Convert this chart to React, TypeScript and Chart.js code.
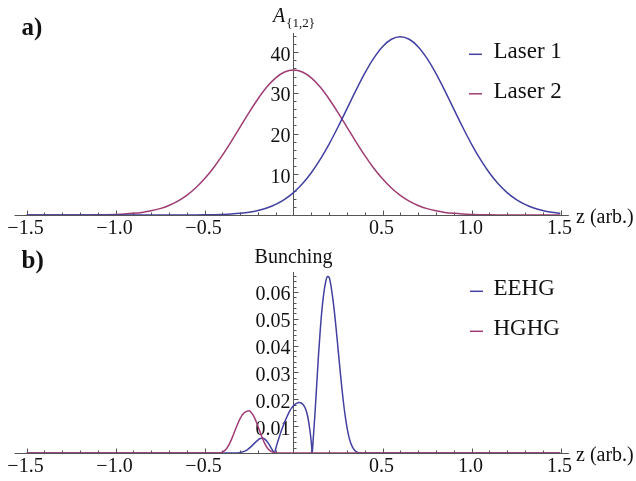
import React, { useEffect, useRef } from "react";
import { Chart, registerables } from "chart.js";

Chart.register(...registerables);

// ---------- data ----------
const zLaser = [
  -1.5, -1.45, -1.4, -1.35, -1.3, -1.25, -1.2, -1.15, -1.1, -1.05, -1.0, -0.95, -0.9, -0.85, -0.8, -0.75,
  -0.7, -0.65, -0.6, -0.55, -0.5, -0.45, -0.4, -0.35, -0.3, -0.25, -0.2, -0.15, -0.1, -0.05, 0, 0.05, 0.1,
  0.15, 0.2, 0.25, 0.3, 0.35, 0.4, 0.45, 0.5, 0.55, 0.6, 0.65, 0.7, 0.75, 0.8, 0.85, 0.9, 0.95, 1.0, 1.05,
  1.1, 1.15, 1.2, 1.25, 1.3, 1.35, 1.4, 1.45, 1.5,
];
const laser1 = [
  0, 0, 0, 0, 0, 0, 0, 0, 0, 0, 0, 0, 0, 0, 0, 0, 0, 0,
  0.01, 0.02, 0.04, 0.08, 0.14, 0.24, 0.41, 0.68, 1.1, 1.71, 2.6, 3.84, 5.5, 7.66, 10.37, 13.64, 17.42,
  21.62, 26.07, 30.55, 34.78, 38.47, 41.35, 43.17, 43.8, 43.17, 41.35, 38.47, 34.78, 30.55, 26.07, 21.62,
  17.42, 13.64, 10.37, 7.66, 5.5, 3.84, 2.6, 1.71, 1.1, 0.68, 0.41,
];
const laser2 = [
  0, 0, 0, 0, 0, 0, 0.01, 0.02, 0.04, 0.08, 0.14, 0.24, 0.4, 0.64, 1.02, 1.56, 2.34, 3.4, 4.82, 6.63, 8.88,
  11.56, 14.64, 18.02, 21.59, 25.16, 28.5, 31.42, 33.67, 35.11, 35.6, 35.11, 33.67, 31.42, 28.5, 25.16,
  21.59, 18.02, 14.64, 11.56, 8.88, 6.63, 4.82, 3.4, 2.34, 1.56, 1.02, 0.64, 0.4, 0.24, 0.14, 0.08, 0.04,
  0.02, 0.01, 0, 0, 0, 0, 0, 0,
];

const zEEHG = [
  -1.5, -0.32, -0.3, -0.28, -0.26, -0.24, -0.22, -0.2, -0.19, -0.18, -0.17, -0.16, -0.15, -0.14, -0.13,
  -0.12, -0.107, -0.1, -0.09, -0.08, -0.07, -0.06, -0.05, -0.04, -0.03, -0.02, -0.01, 0, 0.01, 0.02, 0.03,
  0.04, 0.05, 0.06, 0.07, 0.08, 0.09, 0.1, 0.105, 0.11, 0.12, 0.13, 0.14, 0.15, 0.16, 0.17, 0.18, 0.19,
  0.2, 0.21, 0.22, 0.23, 0.24, 0.25, 0.26, 0.27, 0.28, 0.29, 0.3, 0.31, 0.32, 0.33, 0.34, 0.35, 0.36,
  0.38, 1.5,
];
const eehg = [
  0, 0, 0.0002, 0.0005, 0.0012, 0.0023, 0.0036, 0.0048, 0.0053, 0.0055, 0.0055, 0.0051, 0.0044, 0.0035,
  0.0024, 0.0013, 0, 0.0016, 0.0039, 0.006, 0.008, 0.0098, 0.0115, 0.013, 0.0145, 0.0158, 0.0168, 0.0176,
  0.0182, 0.0186, 0.0188, 0.0187, 0.0183, 0.0175, 0.016, 0.0135, 0.0095, 0.004, 0, 0.0045, 0.014, 0.025,
  0.036, 0.0455, 0.0535, 0.0595, 0.0635, 0.0658, 0.0655, 0.0625, 0.058, 0.0525, 0.046, 0.039, 0.032,
  0.0253, 0.0192, 0.014, 0.0097, 0.0064, 0.004, 0.0024, 0.0013, 0.0006, 0.0002, 0, 0,
];

const zHGHG = [
  -1.5, -0.42, -0.4, -0.38, -0.36, -0.34, -0.32, -0.3, -0.28, -0.26, -0.25, -0.24, -0.22, -0.2, -0.18,
  -0.16, -0.14, -0.12, -0.1, 1.5,
];
const hghg = [
  0, 0, 0.0003, 0.0013, 0.0034, 0.0064, 0.0098, 0.0128, 0.0148, 0.0156, 0.0157, 0.0153, 0.0133, 0.01,
  0.0064, 0.0033, 0.0013, 0.0004, 0, 0,
];

const xTickValues = [-1.5, -1.0, -0.5, 0.5, 1.0, 1.5];
const xTickLabels = ["\u22121.5", "\u22121.0", "\u22120.5", "0.5", "1.0", "1.5"];
const yTicksTop = [10, 20, 30, 40];
const yTickLabelsTop = ["10", "20", "30", "40"];
const yTicksBottom = [0.01, 0.02, 0.03, 0.04, 0.05, 0.06];
const yTickLabelsBottom = ["0.01", "0.02", "0.03", "0.04", "0.05", "0.06"];

const BLUE = "rgb(66, 64, 160)";
const MAGENTA = "rgb(158, 60, 115)";
const SERIF = '"Liberation Serif", "Times New Roman", serif';
const AXIS = "#555";
const TEXT = "#111";

type Overlay = {
  panel: string;
  panelBase: number;
  titleMain: string;
  titleSub?: string;
  titleBase: number;
  yTicks: number[];
  yTickLabels: string[];
  yMinor: number;
  yMinorPerMajor: number;
  legendX1: number;
  legendX2: number;
  legendTextX: number;
  legendBases: number[];
};

function makeOverlay(o: Overlay) {
  return {
    id: "mmaAxes",
    beforeDatasetsDraw(chart: any) {
      const { ctx, chartArea } = chart;
      const xs = chart.scales.x;
      const ys = chart.scales.y;
      const x0 = xs.getPixelForValue(0);
      const y0 = ys.getPixelForValue(0) + 0.5;
      const yTop = chartArea.top;
      ctx.save();
      ctx.strokeStyle = AXIS;
      ctx.lineWidth = 1;
      // x axis line
      ctx.beginPath();
      ctx.moveTo(xs.getPixelForValue(-1.567), y0);
      ctx.lineTo(xs.getPixelForValue(1.547), y0);
      // y axis line
      ctx.moveTo(x0, y0);
      ctx.lineTo(x0, yTop);
      // x ticks (every 0.1, longer every 0.5)
      for (let k = -15; k <= 15; k++) {
        if (k === 0) continue;
        const px = Math.round(xs.getPixelForValue(k / 10)) + 0.5;
        const len = k % 5 === 0 ? 5 : 3;
        ctx.moveTo(px, y0);
        ctx.lineTo(px, y0 - len);
      }
      // y ticks (to the right of the axis)
      const yMax = ys.max;
      for (let i = 1; i * o.yMinor <= yMax + 1e-12; i++) {
        const py = Math.round(ys.getPixelForValue(i * o.yMinor)) + 0.5;
        const len = i % o.yMinorPerMajor === 0 ? 5 : 3;
        ctx.moveTo(x0, py);
        ctx.lineTo(x0 + len, py);
      }
      ctx.stroke();

      ctx.fillStyle = TEXT;
      ctx.textBaseline = "alphabetic";
      // x tick labels
      ctx.font = `20px ${SERIF}`;
      ctx.textAlign = "center";
      xTickValues.forEach((v, i) => {
        ctx.fillText(xTickLabels[i], xs.getPixelForValue(v) - 1, y0 + 18.5);
      });
      // y tick labels
      ctx.textAlign = "right";
      o.yTicks.forEach((v, i) => {
        ctx.fillText(o.yTickLabels[i], x0 - 3, ys.getPixelForValue(v) + 8.5);
      });
      // x axis title
      ctx.textAlign = "left";
      ctx.fillText("z (arb.)", 576, y0 + 7.5);
      // y axis title
      if (o.titleSub) {
        ctx.font = `italic 20px ${SERIF}`;
        const wA = ctx.measureText(o.titleMain).width;
        ctx.font = `13px ${SERIF}`;
        const wS = ctx.measureText(o.titleSub).width;
        const start = x0 - (wA + wS) / 2;
        ctx.font = `italic 20px ${SERIF}`;
        ctx.fillText(o.titleMain, start, o.titleBase);
        ctx.font = `13px ${SERIF}`;
        ctx.fillText(o.titleSub, start + wA + 1, o.titleBase + 4.5);
      } else {
        ctx.font = `20px ${SERIF}`;
        ctx.textAlign = "center";
        ctx.fillText(o.titleMain, x0, o.titleBase);
      }
      // panel label
      ctx.textAlign = "left";
      ctx.font = `bold 25px ${SERIF}`;
      ctx.fillText(o.panel, 21.5, o.panelBase);
      // legend
      ctx.font = `23px ${SERIF}`;
      chart.data.datasets.forEach((ds: any, i: number) => {
        const b = o.legendBases[i];
        ctx.strokeStyle = ds.borderColor;
        ctx.lineWidth = 1.5;
        ctx.beginPath();
        ctx.moveTo(o.legendX1, b - 3.7);
        ctx.lineTo(o.legendX2, b - 3.7);
        ctx.stroke();
        ctx.fillStyle = TEXT;
        ctx.fillText(ds.label, o.legendTextX, b);
      });
      ctx.restore();
    },
  };
}

function baseOptions(yMax: number, padding: any) {
  return {
    responsive: false,
    maintainAspectRatio: false,
    animation: false as const,
    layout: { padding },
    plugins: { legend: { display: false }, tooltip: { enabled: false }, title: { display: false } },
    elements: {
      point: { radius: 0 },
      line: { borderWidth: 1.5, cubicInterpolationMode: "monotone" as const },
    },
    scales: {
      x: { type: "linear" as const, min: -1.5, max: 1.5, display: false },
      y: { type: "linear" as const, min: 0, max: yMax, display: false },
    },
  };
}

export default function App() {
  const topRef = useRef<HTMLCanvasElement>(null);
  const botRef = useRef<HTMLCanvasElement>(null);

  useEffect(() => {
    const top = new Chart(topRef.current as HTMLCanvasElement, {
      type: "line",
      data: {
        datasets: [
          {
            label: "Laser 1",
            data: zLaser.map((z, i) => ({ x: z, y: laser1[i] })),
            borderColor: BLUE,
            backgroundColor: BLUE,
            fill: false,
          },
          {
            label: "Laser 2",
            data: zLaser.map((z, i) => ({ x: z, y: laser2[i] })),
            borderColor: MAGENTA,
            backgroundColor: MAGENTA,
            fill: false,
          },
        ],
      },
      options: baseOptions(44.7, { left: 26.5, right: 75.5, top: 33, bottom: 25 }) as any,
      plugins: [
        makeOverlay({
          panel: "a)",
          panelBase: 35,
          titleMain: "A",
          titleSub: "{1,2}",
          titleBase: 22,
          yTicks: yTicksTop,
          yTickLabels: yTickLabelsTop,
          yMinor: 2,
          yMinorPerMajor: 5,
          legendX1: 469,
          legendX2: 482,
          legendTextX: 493.5,
          legendBases: [58, 97.5],
        }),
      ],
    });

    const bot = new Chart(botRef.current as HTMLCanvasElement, {
      type: "line",
      data: {
        datasets: [
          {
            label: "EEHG",
            data: zEEHG.map((z, i) => ({ x: z, y: eehg[i] })),
            borderColor: BLUE,
            backgroundColor: BLUE,
            fill: false,
            order: 2,
          },
          {
            label: "HGHG",
            data: zHGHG.map((z, i) => ({ x: z, y: hghg[i] })),
            borderColor: MAGENTA,
            backgroundColor: MAGENTA,
            fill: false,
            order: 1,
          },
        ],
      },
      options: baseOptions(0.06745, { left: 26.5, right: 75.5, top: 32, bottom: 28 }) as any,
      plugins: [
        makeOverlay({
          panel: "b)",
          panelBase: 28,
          titleMain: "Bunching",
          titleBase: 22.5,
          yTicks: yTicksBottom,
          yTickLabels: yTickLabelsBottom,
          yMinor: 0.002,
          yMinorPerMajor: 5,
          legendX1: 470,
          legendX2: 483,
          legendTextX: 493.5,
          legendBases: [55, 95],
        }),
      ],
    });

    return () => {
      top.destroy();
      bot.destroy();
    };
  }, []);

  return (
    <div style={{ position: "absolute", left: 0, top: 0, width: 636, height: 481, background: "#fff" }}>
      <canvas
        ref={topRef}
        width={636}
        height={240}
        style={{ position: "absolute", left: 0, top: 0, width: 636, height: 240 }}
      />
      <canvas
        ref={botRef}
        width={636}
        height={241}
        style={{ position: "absolute", left: 0, top: 240, width: 636, height: 241 }}
      />
    </div>
  );
}
